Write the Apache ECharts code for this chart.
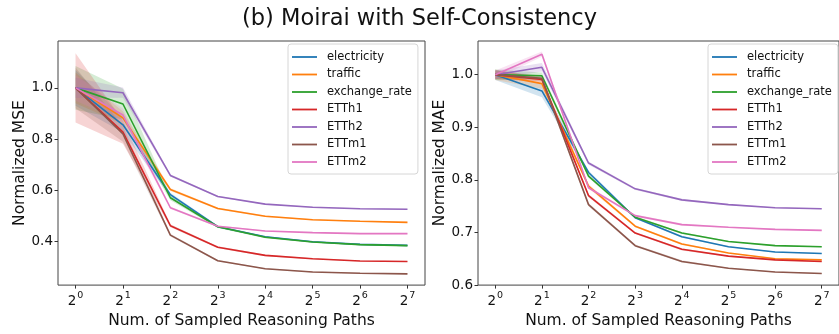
<!DOCTYPE html>
<html>
<head>
<meta charset="utf-8">
<script src="https://cdn.jsdelivr.net/npm/echarts@6/dist/echarts.min.js"></script>
<style>
html,body{margin:0;padding:0;background:#fff;overflow:hidden;}
#chart{width:839px;height:334px;}
</style>
</head>
<body>
<div id="chart"></div>
<script>
// x positions: exponent of 2 (number of sampled reasoning paths = 2^exp)
const exps = [0, 1, 2, 3, 4, 5, 6, 7];
const names = ['electricity', 'traffic', 'exchange_rate', 'ETTh1', 'ETTh2', 'ETTm1', 'ETTm2'];
const colors = ['#1f77b4', '#ff7f0e', '#2ca02c', '#d62728', '#9467bd', '#8c564b', '#e377c2'];

// Normalized MSE (mean)
const mseElectricity = [1.0, 0.856, 0.583, 0.458, 0.419, 0.399, 0.389, 0.385];
const mseTraffic     = [1.0, 0.883, 0.603, 0.529, 0.499, 0.485, 0.479, 0.475];
const mseExchange    = [1.0, 0.937, 0.571, 0.458, 0.417, 0.398, 0.388, 0.384];
const mseETTh1       = [1.0, 0.827, 0.462, 0.378, 0.346, 0.333, 0.324, 0.322];
const mseETTh2       = [1.0, 0.981, 0.658, 0.576, 0.546, 0.534, 0.528, 0.526];
const mseETTm1       = [1.0, 0.820, 0.425, 0.325, 0.294, 0.281, 0.276, 0.274];
const mseETTm2       = [1.0, 0.894, 0.532, 0.460, 0.441, 0.435, 0.431, 0.431];
// Normalized MSE (std band half-width)
const mseStdElectricity = [0.070, 0.030, 0.008, 0.004, 0.003, 0.002, 0.002, 0.002];
const mseStdTraffic     = [0.060, 0.025, 0.006, 0.004, 0.003, 0.002, 0.002, 0.002];
const mseStdExchange    = [0.085, 0.060, 0.010, 0.005, 0.004, 0.003, 0.002, 0.002];
const mseStdETTh1       = [0.135, 0.045, 0.006, 0.004, 0.003, 0.002, 0.002, 0.002];
const mseStdETTh2       = [0.040, 0.020, 0.005, 0.003, 0.002, 0.002, 0.002, 0.002];
const mseStdETTm1       = [0.080, 0.030, 0.005, 0.003, 0.002, 0.002, 0.002, 0.002];
const mseStdETTm2       = [0.050, 0.025, 0.005, 0.003, 0.002, 0.002, 0.002, 0.002];

// Normalized MAE (mean)
const maeElectricity = [1.0, 0.969, 0.814, 0.728, 0.692, 0.673, 0.663, 0.660];
const maeTraffic     = [1.0, 0.983, 0.788, 0.712, 0.678, 0.661, 0.650, 0.648];
const maeExchange    = [1.0, 0.998, 0.807, 0.729, 0.699, 0.683, 0.675, 0.673];
const maeETTh1       = [1.0, 0.991, 0.770, 0.699, 0.668, 0.655, 0.648, 0.645];
const maeETTh2       = [1.0, 1.014, 0.832, 0.783, 0.762, 0.753, 0.747, 0.745];
const maeETTm1       = [1.0, 0.993, 0.753, 0.675, 0.645, 0.632, 0.625, 0.622];
const maeETTm2       = [1.0, 1.039, 0.785, 0.732, 0.715, 0.710, 0.706, 0.704];
// Normalized MAE (std band half-width)
const maeStdElectricity = [0.010, 0.012, 0.004, 0.002, 0.002, 0.001, 0.001, 0.001];
const maeStdTraffic     = [0.010, 0.010, 0.004, 0.002, 0.002, 0.001, 0.001, 0.001];
const maeStdExchange    = [0.010, 0.006, 0.003, 0.002, 0.002, 0.001, 0.001, 0.001];
const maeStdETTh1       = [0.008, 0.005, 0.003, 0.002, 0.002, 0.001, 0.001, 0.001];
const maeStdETTh2       = [0.008, 0.008, 0.003, 0.002, 0.002, 0.001, 0.001, 0.001];
const maeStdETTm1       = [0.008, 0.005, 0.003, 0.002, 0.002, 0.001, 0.001, 0.001];
const maeStdETTm2       = [0.008, 0.005, 0.003, 0.002, 0.002, 0.001, 0.001, 0.001];

const xTickExps = [0, 1, 2, 3, 4, 5, 6, 7];
const mseTicks = [0.4, 0.6, 0.8, 1.0];
const maeTicks = [0.6, 0.7, 0.8, 0.9, 1.0];

const mseMeans = [mseElectricity, mseTraffic, mseExchange, mseETTh1, mseETTh2, mseETTm1, mseETTm2];
const mseStds  = [mseStdElectricity, mseStdTraffic, mseStdExchange, mseStdETTh1, mseStdETTh2, mseStdETTm1, mseStdETTm2];
const maeMeans = [maeElectricity, maeTraffic, maeExchange, maeETTh1, maeETTh2, maeETTm1, maeETTm2];
const maeStds  = [maeStdElectricity, maeStdTraffic, maeStdExchange, maeStdETTh1, maeStdETTh2, maeStdETTm1, maeStdETTm2];

const FONT = 'DejaVu Sans';

function hexA(hex, a) {
  const n = parseInt(hex.slice(1), 16);
  return 'rgba(' + ((n >> 16) & 255) + ',' + ((n >> 8) & 255) + ',' + (n & 255) + ',' + a + ')';
}

function buildSeries(means, stds, gi, tag) {
  const s = [];
  means.forEach((m, i) => {
    const upper = exps.map((x, k) => [x, m[k] + stds[i][k]]);
    const lower = exps.map((x, k) => [x, m[k] - stds[i][k]]);
    s.push({
      type: 'custom', name: tag + '_band_' + i, xAxisIndex: gi, yAxisIndex: gi,
      data: [[exps[0], m[0]]], silent: true, clip: true, z: 1 + i * 0.01,
      renderItem: (params, api) => {
        const pts = upper.map(p => api.coord(p)).concat(lower.slice().reverse().map(p => api.coord(p)));
        return { type: 'polygon', shape: { points: pts }, style: { fill: hexA(colors[i], 0.2), stroke: null } };
      }
    });
  });
  means.forEach((m, i) => {
    s.push({
      type: 'line', name: names[i], xAxisIndex: gi, yAxisIndex: gi,
      data: exps.map((x, k) => [x, m[k]]), symbol: 'none',
      lineStyle: { color: colors[i], width: 1.6 }, itemStyle: { color: colors[i] },
      z: 3 + i * 0.01
    });
  });
  return s;
}

function xAxis(gi) {
  return {
    type: 'value', gridIndex: gi, min: -0.37, max: 7.37,
    axisLine: { show: false, onZero: false },
    axisTick: { show: true, inside: false, length: 3.5, lineStyle: { color: '#333' }, customValues: xTickExps },
    splitLine: { show: false },
    axisLabel: {
      customValues: xTickExps, margin: 5,
      formatter: v => '{b|2}{s|' + v + '}',
      rich: {
        b: { fontFamily: FONT, fontSize: 13.5, color: '#111', lineHeight: 18, verticalAlign: 'bottom' },
        s: { fontFamily: FONT, fontSize: 9.5, color: '#111', lineHeight: 18, verticalAlign: 'top', padding: [0, 0, 0, 1] }
      }
    },
    name: 'Num. of Sampled Reasoning Paths', nameLocation: 'middle', nameGap: 22,
    nameTextStyle: { fontFamily: FONT, fontSize: 15.5, color: '#111' }
  };
}

function yAxis(gi, min, max, ticks, name) {
  return {
    type: 'value', gridIndex: gi, min: min, max: max,
    axisLine: { show: false, onZero: false },
    axisTick: { show: true, length: 3.5, lineStyle: { color: '#333' }, customValues: ticks },
    splitLine: { show: false },
    axisLabel: { customValues: ticks, margin: 5, formatter: v => v.toFixed(1),
      fontFamily: FONT, fontSize: 13.5, color: '#111' },
    name: name, nameLocation: 'middle', nameGap: 30, nameRotate: 90,
    nameTextStyle: { fontFamily: FONT, fontSize: 15.5, color: '#111' }
  };
}

function legend(left) {
  return {
    data: names, orient: 'vertical', left: left, top: 44,
    icon: 'rect', itemWidth: 25, itemHeight: 1.8, itemGap: 3.5,
    padding: [6, 6, 5, 4],
    backgroundColor: 'rgba(255,255,255,0.85)', borderColor: '#d6d6d6', borderWidth: 1, borderRadius: 3,
    textStyle: { fontFamily: FONT, fontSize: 11.5, color: '#111', lineHeight: 14, padding: [0, 0, 0, 5] },
    selectedMode: false
  };
}

const chart = echarts.init(document.getElementById('chart'), null, { renderer: 'canvas' });
chart.setOption({
  animation: false,
  backgroundColor: '#fff',
  title: {
    text: '(b) Moirai with Self-Consistency', left: 'center', top: 3,
    textStyle: { fontFamily: FONT, fontSize: 22.5, fontWeight: 'normal', color: '#111' }
  },
  legend: [legend(288), legend(708)],
  grid: [
    { left: 58, top: 41, width: 367, height: 251, show: true, borderColor: '#444', borderWidth: 1, containLabel: false },
    { left: 478, top: 41, width: 367, height: 251, show: true, borderColor: '#444', borderWidth: 1, containLabel: false }
  ],
  xAxis: [xAxis(0), xAxis(1)],
  yAxis: [
    yAxis(0, 0.23, 1.183, mseTicks, 'Normalized MSE'),
    yAxis(1, 0.6, 1.064, maeTicks, 'Normalized MAE')
  ],
  series: buildSeries(mseMeans, mseStds, 0, 'mse').concat(buildSeries(maeMeans, maeStds, 1, 'mae'))
});
</script>
</body>
</html>
